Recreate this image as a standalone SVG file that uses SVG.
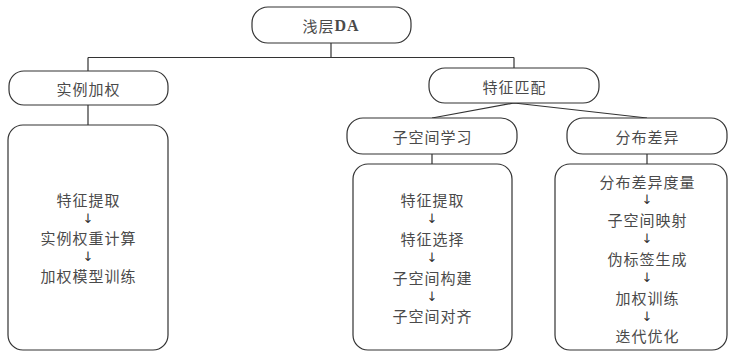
<svg xmlns="http://www.w3.org/2000/svg" width="730" height="354" viewBox="0 0 730 354">
<style>
.n{fill:#fff;stroke:#333;stroke-width:1.2}
.t{font-family:"Noto Sans CJK SC","Noto Sans",sans-serif;font-size:15px;fill:#4a4a4a;text-anchor:middle;dominant-baseline:central;letter-spacing:1px}
.a{font-family:"DejaVu Sans",sans-serif;font-size:13px;fill:#333;text-anchor:middle;dominant-baseline:central}
.c{fill:none;stroke:#333;stroke-width:1.2}
</style>
<rect width="730" height="354" fill="#fff"/>
<g id="connectors">
<path class="c" d="M331 43V57.5M88 57.5H514M88 57.5V71M514 57.5V68M88 105V125M514 103L432 118M514 103L647 118M432 154V164M647 154V164"/>
</g>
<g id="root">
<rect class="n" x="252" y="7" width="159" height="36" rx="16"/>
<text class="t" x="331" y="25" letter-spacing="0">浅层<tspan font-family="Liberation Serif,serif" font-weight="bold" font-size="16">DA</tspan></text>
</g>
<g id="instance">
<rect class="n" x="9" y="71" width="159" height="34" rx="15"/>
<text class="t" x="88.5" y="88">实例加权</text>
</g>
<g id="instance-box">
<rect class="n" x="8" y="125" width="160" height="225" rx="15"/>
<text class="t" x="88.5" y="199">特征提取</text>
<text class="a" x="88" y="218">↓</text>
<text class="t" x="88.5" y="237">实例权重计算</text>
<text class="a" x="88" y="256">↓</text>
<text class="t" x="88.5" y="275">加权模型训练</text>
</g>
<g id="feature">
<rect class="n" x="429" y="68" width="170" height="35" rx="16"/>
<text class="t" x="514.5" y="86">特征匹配</text>
</g>
<g id="subspace">
<rect class="n" x="347" y="118" width="170" height="36" rx="16"/>
<text class="t" x="432.5" y="136">子空间学习</text>
</g>
<g id="distribution">
<rect class="n" x="567" y="118" width="160" height="36" rx="16"/>
<text class="t" x="647.5" y="136">分布差异</text>
</g>
<g id="subspace-box">
<rect class="n" x="353" y="164" width="159" height="186" rx="15"/>
<text class="t" x="432.5" y="199">特征提取</text>
<text class="a" x="432" y="218">↓</text>
<text class="t" x="432.5" y="238">特征选择</text>
<text class="a" x="432" y="257">↓</text>
<text class="t" x="432.5" y="277">子空间构建</text>
<text class="a" x="432" y="296">↓</text>
<text class="t" x="432.5" y="315">子空间对齐</text>
</g>
<g id="distribution-box">
<rect class="n" x="555" y="164" width="172" height="186" rx="15"/>
<text class="t" x="647.5" y="181">分布差异度量</text>
<text class="a" x="647" y="199">↓</text>
<text class="t" x="647.5" y="219">子空间映射</text>
<text class="a" x="647" y="238">↓</text>
<text class="t" x="647.5" y="258">伪标签生成</text>
<text class="a" x="647" y="277">↓</text>
<text class="t" x="647.5" y="297">加权训练</text>
<text class="a" x="647" y="316">↓</text>
<text class="t" x="647.5" y="335">迭代优化</text>
</g>
</svg>
